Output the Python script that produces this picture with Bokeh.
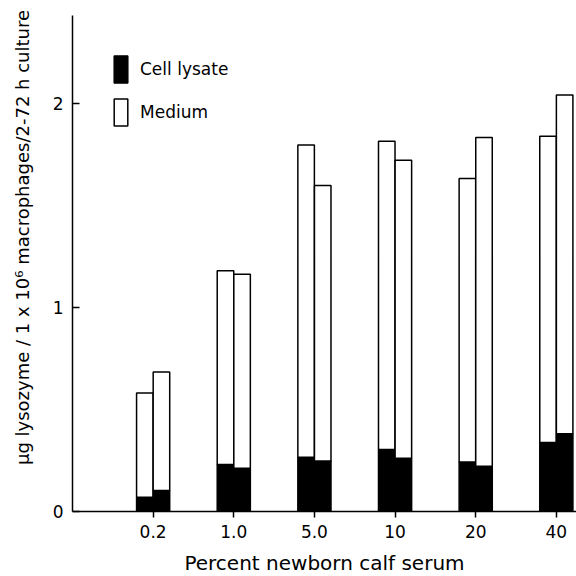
import math
from bokeh.plotting import figure
from bokeh.models import ColumnDataSource, FixedTicker, Range1d, Legend, LegendItem, Label
from bokeh.embed import file_html
from bokeh.resources import INLINE

# Data (µg lysozyme per 1e6 macrophages)
categories = ["0.2", "1.0", "5.0", "10", "20", "40"]
lysate_a = [0.07, 0.23, 0.266, 0.304, 0.242, 0.338]
medium_a = [0.51, 0.95, 1.53, 1.51, 1.39, 1.50]
lysate_b = [0.103, 0.212, 0.247, 0.261, 0.222, 0.381]
medium_b = [0.58, 0.95, 1.35, 1.46, 1.61, 1.66]

pos = [i + 1 for i in range(len(categories))]
bar_w = 0.205
off = 0.103

FONT = "DejaVu Sans"

p = figure(frame_width=504, frame_height=496, output_backend="svg",
           toolbar_location=None, x_range=Range1d(0, 6.25), y_range=Range1d(0, 2.43),
           min_border_left=72, min_border_right=0, min_border_top=15, min_border_bottom=65)
p.background_fill_color = "white"
p.border_fill_color = "white"
p.outline_line_color = None
p.xgrid.visible = False
p.ygrid.visible = False

src_a = ColumnDataSource(dict(x=[v - off for v in pos], lysate=lysate_a, medium=medium_a))
src_b = ColumnDataSource(dict(x=[v + off for v in pos], lysate=lysate_b, medium=medium_b))

rs_a = p.vbar_stack(["lysate", "medium"], x="x", width=bar_w, source=src_a,
                    fill_color=["black", "white"], line_color="black", line_width=1.5)
rs_b = p.vbar_stack(["lysate", "medium"], x="x", width=bar_w, source=src_b,
                    fill_color=["black", "white"], line_color="black", line_width=1.5)

legend = Legend(items=[LegendItem(label="Cell lysate", renderers=[rs_a[0]]),
                       LegendItem(label="Medium", renderers=[rs_a[1]])],
                location=(40, 382), glyph_width=17, glyph_height=34, spacing=9,
                padding=0, margin=0, label_standoff=11,
                label_text_font=FONT, label_text_font_size="17px",
                label_text_color="black",
                border_line_color=None, background_fill_alpha=0)
p.add_layout(legend)

# x axis
p.xaxis.ticker = FixedTicker(ticks=pos)
p.xaxis.major_label_overrides = {v: c for v, c in zip(pos, categories)}
p.xaxis.major_tick_in = 0
p.xaxis.major_tick_out = 6
p.xaxis.minor_tick_line_color = None
p.xaxis.axis_label = "Percent newborn calf serum"
p.xaxis.axis_label_text_font = FONT
p.xaxis.axis_label_text_font_style = "normal"
p.xaxis.axis_label_text_font_size = "20px"
p.xaxis.axis_label_standoff = 10
p.xaxis.major_label_text_font = FONT
p.xaxis.major_label_text_font_size = "17px"
p.xaxis.major_label_standoff = 7

# y axis
p.yaxis.ticker = FixedTicker(ticks=[0, 1, 2])
p.yaxis.major_tick_in = 7
p.yaxis.major_tick_out = 0
p.yaxis.minor_tick_line_color = None
p.yaxis.major_label_text_font = FONT
p.yaxis.major_label_text_font_size = "17px"
p.yaxis.major_label_standoff = 9

ylabel = Label(x=-6, y=274, x_units="screen", y_units="screen",
               text="\u03bcg lysozyme / 1 x 10\u2076 macrophages/2-72 h culture",
               angle=math.pi / 2, text_align="center", text_baseline="middle",
               text_font=FONT, text_font_size="18px", text_color="black")
p.add_layout(ylabel, "left")

for ax in (p.xaxis, p.yaxis):
    ax.axis_line_width = 1.5
    ax.major_tick_line_width = 1.5
    ax.axis_line_color = "black"
    ax.major_tick_line_color = "black"
    ax.major_label_text_color = "black"
    ax.axis_label_text_color = "black"

open("out.html", "w").write(file_html(p, INLINE))
